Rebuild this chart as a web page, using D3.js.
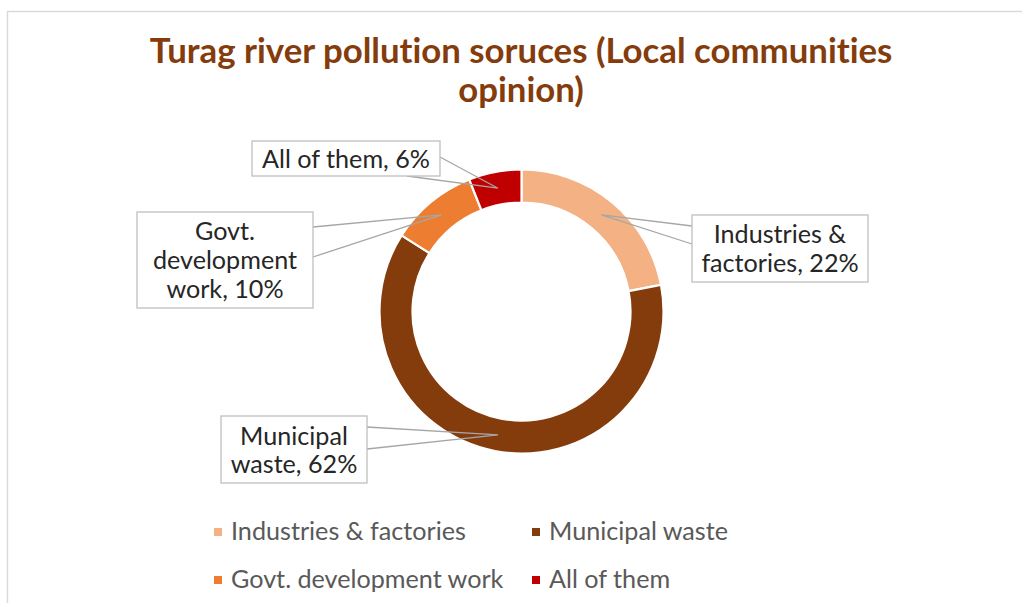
<!DOCTYPE html>
<html>
<head>
<meta charset="utf-8">
<script src="https://cdn.jsdelivr.net/npm/d3@7"></script>
<style>
  html, body { margin: 0; padding: 0; background: #ffffff; }
  svg { display: block; }
  text { font-family: Lato, "Noto Sans", sans-serif; font-variant-ligatures: none; font-feature-settings: "liga" 0, "clig" 0; }
</style>
</head>
<body>
<svg id="chart" width="1022" height="603"></svg>
<script>
// Survey data: sources of pollution in the Turag river
const categories = ["Industries & factories", "Municipal waste", "Govt. development work", "All of them"];
const values = [22, 62, 10, 6];
const colors = ["#F4B183", "#843C0C", "#ED7D31", "#C00000"];
// Line breaks used inside each data-label callout
const labelNameLines = [["Industries &", "factories"], ["Municipal", "waste"], ["Govt.", "development", "work"], ["All of them"]];
const titleLines = ["Turag river pollution soruces (Local communities", "opinion)"];

const W = 1022, H = 603;
const svg = d3.select("#chart");

// Chart area frame
svg.append("rect")
  .attr("x", 7.5).attr("y", 11.5)
  .attr("width", W + 20).attr("height", H + 20)
  .attr("fill", "#ffffff").attr("stroke", "#D9D9D9").attr("stroke-width", 1.4);

// Scale text so its rendered width equals a target width
function fitWidth(sel, target, startSize) {
  sel.attr("font-size", startSize);
  const w = sel.node().getComputedTextLength();
  sel.attr("font-size", startSize * target / w);
}

// Title
const title = svg.append("g");
const t1 = title.append("text").attr("x", 521).attr("y", 63).attr("text-anchor", "middle")
  .attr("font-weight", 700).attr("fill", "#843C0C").text(titleLines[0]);
fitWidth(t1, 743, 28);
const titleSize = +t1.attr("font-size");
title.append("text").attr("x", 521).attr("y", 102).attr("text-anchor", "middle")
  .attr("font-weight", 700).attr("fill", "#843C0C").attr("font-size", titleSize).text(titleLines[1]);

// Donut
const cx = 521.5, cy = 311.5, rOuter = 142, rInner = 109;
const pie = d3.pie().sort(null).value(d => d)(values);
const arc = d3.arc().innerRadius(rInner).outerRadius(rOuter);
const g = svg.append("g").attr("transform", `translate(${cx},${cy})`);
g.selectAll("path").data(pie).join("path")
  .attr("d", arc)
  .attr("fill", (d, i) => colors[i])
  .attr("stroke", "#ffffff").attr("stroke-width", 2.2).attr("stroke-linejoin", "miter");

// Callout boxes and the wedge-shaped leaders that point into each segment
const boxes = [
  { x: 692, y: 215, w: 176, h: 67, base: [[692, 226], [692, 244]], lineH: 29 },
  { x: 221, y: 416, w: 146, h: 67, base: [[367, 427], [367, 449]], lineH: 28 },
  { x: 137, y: 212, w: 176, h: 96, base: [[313, 227], [313, 257]], lineH: 29 },
  { x: 252, y: 141, w: 188, h: 35, base: [[440, 157], [407, 176]], lineH: 28 }
];
const tipArc = d3.arc().innerRadius((rInner + rOuter) / 2).outerRadius((rInner + rOuter) / 2);

const labels = svg.append("g");
// Reference size for callout text: "All of them, 6%" spans about 168px
const probe = labels.append("text").text(labelNameLines[3][0] + ", " + values[3] + "%");
fitWidth(probe, 168, 20);
const labelSize = +probe.attr("font-size");
probe.remove();

pie.forEach((d, i) => {
  const b = boxes[i];
  const c = tipArc.centroid(d);
  const tip = [cx + c[0], cy + c[1]];
  labels.append("path")
    .attr("d", d3.line()([b.base[0], tip, b.base[1]]))
    .attr("fill", "none").attr("stroke", "#A6A6A6").attr("stroke-width", 1.3);
});

pie.forEach((d, i) => {
  const b = boxes[i];
  labels.append("rect")
    .attr("x", b.x).attr("y", b.y).attr("width", b.w).attr("height", b.h)
    .attr("fill", "#ffffff").attr("stroke", "#BFBFBF").attr("stroke-width", 1.3);
  const lines = labelNameLines[i].slice();
  lines[lines.length - 1] = lines[lines.length - 1] + ", " + values[i] + "%";
  const n = lines.length;
  const midY = b.y + b.h / 2;
  const t = labels.append("text")
    .attr("text-anchor", "middle").attr("fill", "#262626").attr("font-size", labelSize);
  lines.forEach((ln, k) => {
    t.append("tspan")
      .attr("x", b.x + b.w / 2)
      .attr("y", midY + (k - (n - 1) / 2) * b.lineH + labelSize * 0.36)
      .text(ln);
  });
});

// Legend: two columns, two rows
const legendCols = [214, 532], legendRows = [540, 588];
const legend = svg.append("g");
const legendProbe = legend.append("text").text(categories[0]);
fitWidth(legendProbe, 235, 20);
const legendSize = +legendProbe.attr("font-size");
legendProbe.remove();
categories.forEach((name, i) => {
  const x = legendCols[i % 2], y = legendRows[Math.floor(i / 2)];
  legend.append("rect").attr("x", x).attr("y", y - 12).attr("width", 8).attr("height", 8).attr("fill", colors[i]);
  legend.append("text").attr("x", x + 17).attr("y", y)
    .attr("font-size", legendSize).attr("fill", "#595959").text(name);
});
</script>
</body>
</html>
